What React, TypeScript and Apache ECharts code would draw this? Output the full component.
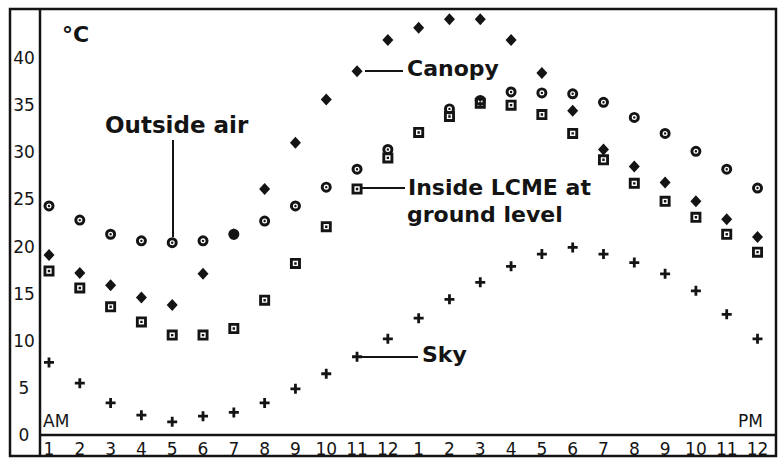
import React, { useEffect, useRef } from "react";
import * as echarts from "echarts";

// Hours of the day: 1 AM ... 12 noon, 1 PM ... 12 midnight
const hours = [1, 2, 3, 4, 5, 6, 7, 8, 9, 10, 11, 12, 13, 14, 15, 16, 17, 18, 19, 20, 21, 22, 23, 24];
const hourLabels = ["1", "2", "3", "4", "5", "6", "7", "8", "9", "10", "11", "12", "1", "2", "3", "4", "5", "6", "7", "8", "9", "10", "11", "12"];
const yTicks = [0, 5, 10, 15, 20, 25, 30, 35, 40];

const outsideAir: (number | null)[] = [24.3, 22.8, 21.3, 20.6, 20.4, 20.6, 21.3, 22.7, 24.3, 26.3, 28.2, 30.3, null, 34.6, 35.5, 36.4, 36.3, 36.2, 35.3, 33.7, 32.0, 30.1, 28.2, 26.2];
const canopy: (number | null)[] = [19.1, 17.2, 15.9, 14.6, 13.8, 17.1, 21.3, 26.1, 31.0, 35.6, 38.6, 41.9, 43.2, 44.1, 44.1, 41.9, 38.4, 34.4, 30.3, 28.5, 26.8, 24.8, 22.9, 21.0];
const insideLCME: (number | null)[] = [17.4, 15.6, 13.6, 12.0, 10.6, 10.6, 11.3, 14.3, 18.2, 22.1, 26.1, 29.4, 32.1, 33.8, 35.2, 35.0, 34.0, 32.0, 29.2, 26.7, 24.8, 23.1, 21.3, 19.4];
const sky: (number | null)[] = [7.7, 5.5, 3.4, 2.1, 1.4, 2.0, 2.4, 3.4, 4.9, 6.5, 8.3, 10.2, 12.4, 14.4, 16.2, 17.9, 19.2, 19.9, 19.2, 18.3, 17.1, 15.3, 12.8, 10.2];

const INK = "#141414";

const RING =
  "path://M0,-5A5,5 0 1,1 0,5A5,5 0 1,1 0,-5Z M0,-2.3A2.3,2.3 0 1,0 0,2.3A2.3,2.3 0 1,0 0,-2.3Z M0,-1.1A1.1,1.1 0 1,1 0,1.1A1.1,1.1 0 1,1 0,-1.1Z";
const BOX =
  "path://M-5,-5L5,-5L5,5L-5,5Z M-2.4,-2.4L-2.4,2.4L2.4,2.4L2.4,-2.4Z M-1.1,-1.1L1.1,-1.1L1.1,1.1L-1.1,1.1Z";
const PLUS =
  "path://M-1.4,-5L1.4,-5L1.4,-1.4L5,-1.4L5,1.4L1.4,1.4L1.4,5L-1.4,5L-1.4,1.4L-5,1.4L-5,-1.4L-1.4,-1.4Z";

function pairs(arr: (number | null)[]) {
  return hours
    .map((h, i) => [h, arr[i]])
    .filter((p) => p[1] !== null) as number[][];
}

const boldFont = 'bold 22px "DejaVu Sans"';
const tickFont = "DejaVu Sans";
const markStyle = { color: INK, opacity: 1 };

function txt(text: string, x: number, y: number, font = boldFont) {
  return {
    type: "text",
    x,
    y,
    z: 100,
    style: { text, font, fill: INK, align: "left", verticalAlign: "middle" },
  };
}
function ln(x1: number, y1: number, x2: number, y2: number, w = 2) {
  return {
    type: "line",
    z: 100,
    shape: { x1, y1, x2, y2 },
    style: { stroke: INK, lineWidth: w },
  };
}

export default function App() {
  const ref = useRef<HTMLDivElement>(null);
  useEffect(() => {
    if (!ref.current) return;
    const chart = echarts.init(ref.current, null, { renderer: "svg" });
    chart.setOption({
      animation: false,
      backgroundColor: "#ffffff",
      grid: { left: 40, right: 3, top: 9, bottom: 23 },
      xAxis: {
        type: "value",
        min: 0.708,
        max: 24.6,
        axisLine: { show: false },
        axisTick: { show: false },
        splitLine: { show: false },
        axisLabel: {
          customValues: hours,
          formatter: (v: number) => hourLabels[Math.round(v) - 1] ?? "",
          fontFamily: tickFont,
          fontSize: 17,
          color: INK,
          margin: 5,
        },
      },
      yAxis: {
        type: "value",
        min: 0,
        max: 45.2,
        axisLine: { show: false },
        axisTick: { show: false },
        splitLine: { show: false },
        axisLabel: {
          customValues: yTicks,
          fontFamily: tickFont,
          fontSize: 17,
          color: INK,
          align: "center",
          margin: 16,
        },
      },
      series: [
        {
          name: "Sky",
          type: "scatter",
          symbol: PLUS,
          symbolSize: 10,
          itemStyle: markStyle,
          data: pairs(sky),
        },
        {
          name: "Inside LCME at ground level",
          type: "scatter",
          symbol: BOX,
          symbolSize: 11,
          itemStyle: markStyle,
          data: pairs(insideLCME),
        },
        {
          name: "Canopy",
          type: "scatter",
          symbol: "diamond",
          symbolSize: [11, 12],
          itemStyle: markStyle,
          data: pairs(canopy),
        },
        {
          name: "Outside air",
          type: "scatter",
          symbol: RING,
          symbolSize: 11,
          itemStyle: markStyle,
          data: pairs(outsideAir),
        },
      ],
      graphic: [
        {
          type: "rect",
          z: 100,
          shape: { x: 10, y: 9, width: 766, height: 447 },
          style: { fill: "none", stroke: INK, lineWidth: 2.5 },
        },
        ln(40, 9, 40, 456, 2.5),
        ln(40, 435, 776, 435, 2.5),
        // annotation leaders
        ln(173, 140, 173, 237),
        ln(365, 71, 403, 71),
        ln(362, 188, 405, 188),
        ln(362, 357, 418, 357),
        // texts
        txt("°C", 62, 34),
        txt("Outside air", 105, 125, 'bold 23px "DejaVu Sans"'),
        txt("Canopy", 407, 68),
        txt("Inside LCME at", 408, 187),
        txt("ground level", 407, 214),
        txt("Sky", 422, 354),
        txt("AM", 43, 421, '17px "DejaVu Sans"'),
        txt("PM", 738, 421, '17px "DejaVu Sans"'),
      ],
    });
    return () => chart.dispose();
  }, []);
  return <div ref={ref} style={{ width: 779, height: 458, position: "absolute", left: 0, top: 0 }} />;
}
